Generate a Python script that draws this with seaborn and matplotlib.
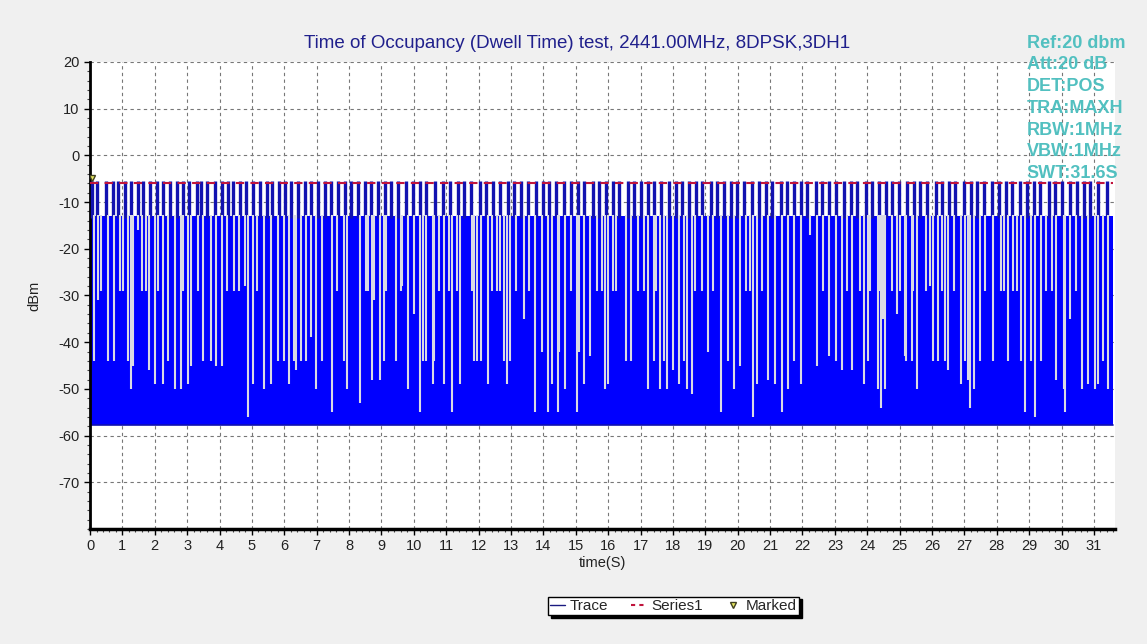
import matplotlib
matplotlib.use("Agg")
import matplotlib.pyplot as plt
from matplotlib.lines import Line2D
from matplotlib.ticker import MultipleLocator
import seaborn as sns
import pandas as pd

title = "Time of Occupancy (Dwell Time) test, 2441.00MHz, 8DPSK,3DH1"
settings = ["Ref:20 dbm", "Att:20 dB", "DET:POS", "TRA:MAXH", "RBW:1MHz", "VBW:1MHz", "SWT:31.6S"]

sweep_end = 31.6
floor_db = -57.8
plateau_db = -13.0
peak_db = -5.5
limit_db = -6.0
marked_t, marked_db = 0.05, -4.8

# burst peaks reaching ~-5.5 dBm
spike_t = [0.05, 0.21, 0.49, 0.70, 0.87, 1.08, 1.28, 1.47, 1.64, 1.85, 2.06, 2.26, 2.47, 2.67,
           2.86, 3.06, 3.29, 3.44, 3.62, 3.85, 4.06, 4.27, 4.42, 4.62, 4.83, 5.04, 5.24, 5.45,
           5.63, 5.84, 6.03, 6.22, 6.42, 6.63, 6.83, 7.04, 7.25, 7.45, 7.66, 7.86, 8.07, 8.27,
           8.48, 8.68, 8.89, 9.10, 9.30, 9.51, 9.76, 9.97, 10.18, 10.38, 10.64, 10.89, 11.10,
           11.36, 11.56, 11.77, 12.03, 12.23, 12.44, 12.66, 12.90, 13.10, 13.31, 13.52, 13.77,
           13.98, 14.18, 14.39, 14.65, 14.85, 15.06, 15.26, 15.52, 15.72, 15.93, 16.14, 16.34,
           16.60, 16.80, 17.01, 17.22, 17.42, 17.63, 17.88, 18.09, 18.29, 18.50, 18.71, 18.91,
           19.17, 19.37, 19.58, 19.78, 19.99, 20.20, 20.45, 20.66, 20.86, 21.07, 21.33, 21.53,
           21.74, 21.94, 22.15, 22.41, 22.61, 22.82, 23.02, 23.28, 23.49, 23.69, 23.95, 24.15,
           24.36, 24.57, 24.77, 24.98, 25.23, 25.44, 25.64, 25.85, 26.11, 26.31, 26.52, 26.72,
           26.98, 27.19, 27.39, 27.60, 27.85, 28.06, 28.27, 28.47, 28.73, 28.93, 29.14, 29.34,
           29.60, 29.81, 30.01, 30.27, 30.47, 30.68, 30.89, 31.14, 31.40]

# dips of the max-hold trace: time and lowest level
gap_t = [0.13, 0.26, 0.34, 0.54, 0.75, 0.94, 1.03, 1.16, 1.26, 1.32, 1.47, 1.60, 1.73, 1.81,
         2.01, 2.09, 2.24, 2.42, 2.62, 2.81, 2.86, 3.01, 3.11, 3.32, 3.50, 3.73, 3.88, 4.09,
         4.24, 4.45, 4.60, 4.79, 4.88, 5.02, 5.17, 5.38, 5.58, 5.79, 5.99, 6.15, 6.30, 6.35,
         6.51, 6.66, 6.81, 6.97, 7.17, 7.48, 7.64, 7.84,
         7.95, 8.33, 8.53, 8.59, 8.72, 8.77, 8.94, 9.08, 9.15, 9.44, 9.59, 9.64, 9.82, 10.00,
         10.18, 10.28, 10.38, 10.59, 10.63, 10.77, 10.93, 11.08, 11.18, 11.34, 11.42, 11.78,
         11.85, 11.95, 12.06, 12.28, 12.42, 12.57, 12.67, 12.78, 12.88, 12.98, 13.16, 13.39,
         13.55, 13.75, 13.96, 14.14, 14.25, 14.44, 14.47, 14.66, 14.86, 15.04, 15.09, 15.24,
         15.45, 15.65, 15.81, 15.91,
         15.99, 16.14, 16.24, 16.55, 16.71, 16.91, 17.12, 17.23, 17.42, 17.47, 17.61, 17.72,
         17.81, 18.00, 18.19, 18.34, 18.42, 18.60, 18.69, 18.89, 19.07, 19.25, 19.48, 19.69,
         19.88, 20.07, 20.25, 20.38, 20.46, 20.59, 20.74, 20.95, 21.15, 21.36, 21.54, 21.74,
         21.94, 22.22, 22.44, 22.64, 22.83, 23.03, 23.21, 23.36, 23.54, 23.77, 23.91,
         24.01, 24.08, 24.32, 24.36, 24.42, 24.50, 24.55, 24.77, 24.91, 25.01, 25.16, 25.21,
         25.37, 25.42, 25.55, 25.80, 25.93, 26.04, 26.19, 26.31, 26.40, 26.50, 26.68, 26.89,
         27.01, 27.10, 27.17, 27.30, 27.49, 27.63, 27.89, 28.12, 28.23, 28.35, 28.50, 28.63,
         28.76, 28.86, 29.07, 29.17, 29.35, 29.53, 29.69, 29.84, 30.07, 30.10, 30.26, 30.46,
         30.63, 30.82, 31.02, 31.14, 31.28, 31.43]
gap_db = [-44, -31, -29, -44, -44, -29, -29, -44, -50, -45, -16, -29, -29, -46,
          -49, -29, -49, -44, -50, -50, -29, -49, -45, -29, -44, -44, -45, -45,
          -29, -29, -29, -28, -56, -49, -29, -50, -49, -44, -44, -49, -44, -46,
          -44, -44, -39, -50, -44, -55, -29, -44,
          -50, -53, -29, -29, -48, -31, -48, -44, -29, -44, -29, -28, -50, -34,
          -55, -44, -44, -49, -44, -29, -49, -29, -55, -29, -49, -29,
          -44, -44, -44, -49, -29, -29, -29, -44, -49, -44, -29, -35,
          -29, -55, -42, -55, -49, -55, -42, -50, -29, -55, -42, -49,
          -43, -29, -29, -50,
          -49, -29, -29, -44, -44, -29, -29, -50, -44, -29, -50, -44,
          -50, -46, -49, -44, -50, -51, -29, -29, -42, -29, -55, -44,
          -50, -45, -29, -29, -56, -49, -29, -48, -49, -55, -50, -44,
          -49, -17, -45, -29, -43, -44, -46, -29, -46, -29, -49,
          -44, -29, -50, -29, -54, -35, -50, -29, -34, -29, -43, -44,
          -44, -29, -50, -29, -28, -44, -44, -29, -44, -46, -29, -49,
          -44, -48, -54, -50, -44, -29, -44, -29, -29, -44, -29, -29,
          -44, -55, -44, -56, -44, -29, -29, -48, -50, -55, -35, -29,
          -50, -49, -50, -49, -44, -50]

series1 = pd.DataFrame({"time": [0.0, sweep_end], "level": [limit_db, limit_db]})

sns.set_style("white")
plt.rcParams["font.family"] = ["Liberation Sans", "DejaVu Sans"]
plt.rcParams["axes.unicode_minus"] = False

fig = plt.figure(figsize=(11.47, 6.44), dpi=100, facecolor="#f0f0f0")
ax = fig.add_axes([0.0785, 0.1786, 0.8936, 0.7252])
ax.set_facecolor("white")

# trace
ax.fill_between([0, sweep_end], floor_db, plateau_db, color="#0000ff", lw=0, zorder=2)
ax.plot([0, sweep_end], [floor_db, floor_db], color="#1010b0", lw=1.2, zorder=2)
ax.vlines(spike_t, plateau_db - 0.5, peak_db, color="#1212b0", lw=2.4, zorder=3)
ax.vlines(gap_t, gap_db, plateau_db + 0.2, color="#dadae4", lw=1.5, zorder=4)

sns.lineplot(data=series1, x="time", y="level", ax=ax, color="#c0143c", lw=1.5,
             linestyle=(0, (4, 3)), zorder=5)
ax.plot([marked_t], [marked_db], marker="v", ms=5, mfc="#e8e860", mec="#404020",
        ls="none", zorder=6)

ax.set_xlim(0, 31.65)
ax.set_ylim(-80, 20)
ax.set_xticks(range(0, 32))
ax.set_yticks(range(-70, 21, 10))
ax.xaxis.set_minor_locator(MultipleLocator(0.2))
ax.yaxis.set_minor_locator(MultipleLocator(2))
ax.tick_params(axis="both", which="major", labelsize=10.5, labelcolor="#222222",
               length=4, width=1, color="black", bottom=True, left=True, direction="out")
ax.tick_params(axis="both", which="minor", length=2, width=0.8, color="#444444",
               bottom=True, left=True, direction="out")
ax.grid(True, which="major", color="#777777", ls=(0, (3, 3)), lw=0.8)
ax.set_axisbelow(True)
for s in ["top", "right"]:
    ax.spines[s].set_visible(False)
ax.spines["left"].set_linewidth(2)
ax.spines["bottom"].set_linewidth(2.5)
ax.spines["left"].set_color("black")
ax.spines["bottom"].set_color("black")

ax.set_xlabel("time(S)", fontsize=10.5, color="#222222", labelpad=2)
ax.set_ylabel("dBm", fontsize=10.5, color="#222222", labelpad=12)

fig.text(0.503, 0.933, title, ha="center", va="center", fontsize=13.5, color="#20208c")
for i, s in enumerate(settings):
    fig.text(0.895, 0.933 - i * 0.0338, s, ha="left", va="center", fontsize=13,
             fontweight="bold", color="#52c0c0", zorder=10)

handles = [Line2D([], [], color="#1a1a80", lw=1),
           Line2D([], [], color="#c0143c", lw=1.5, ls=(0, (2, 2))),
           Line2D([], [], marker="v", ms=5, mfc="#e8e860", mec="#404020", ls="none")]
fig.legend(handles, ["Trace", "Series1", "Marked"], loc="center", ncol=3,
           bbox_to_anchor=(0.587, 0.059), fontsize=11, frameon=True, fancybox=False,
           edgecolor="black", framealpha=1, shadow={"color": "black", "alpha": 1},
           handlelength=1.0, handletextpad=0.3, columnspacing=1.5, borderpad=0.15)

fig.savefig("out.png", dpi=100, facecolor=fig.get_facecolor())
